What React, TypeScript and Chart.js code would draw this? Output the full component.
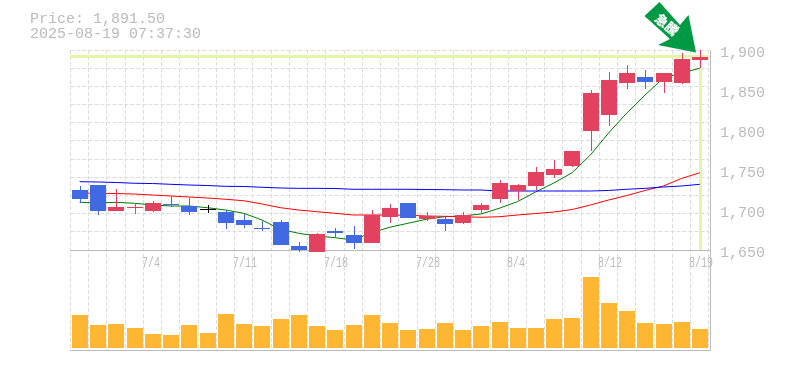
import React, { useEffect, useRef } from "react";
import { Chart, registerables } from "chart.js";

Chart.register(...registerables);

const categories = ["6/30","7/1","7/2","7/3","7/4","7/7","7/8","7/9","7/10","7/11","7/14","7/15","7/16","7/17","7/18","7/22","7/23","7/24","7/25","7/28","7/29","7/30","7/31","8/1","8/4","8/5","8/6","8/7","8/8","8/12","8/13","8/14","8/15","8/18","8/19"];
const tickLabels = ["7/4","7/11","7/18","7/28","8/4","8/12","8/19"];
const priceTicks = [1650,1700,1750,1800,1850,1900];
const opens = [1725,1731.25,1699.1,1702.5,1699.1,1707.5,1705,1700,1697.5,1687.5,1677.5,1685,1655,1647.9,1673.75,1668.75,1658.75,1691.6,1708.75,1688.75,1688.75,1683.75,1700,1713.75,1723.75,1730,1743.75,1755,1798.75,1818.75,1858.75,1866.25,1860,1858.75,1887.5];
const closes = [1713.75,1699.1,1703.75,1703.75,1708.75,1706.25,1697.9,1700,1684.1,1681.6,1676.25,1656.6,1650,1670,1671.6,1658.75,1693.75,1702.5,1690.4,1692.5,1682.9,1693.75,1706.25,1733.75,1731.25,1747.5,1751.25,1773.75,1846.25,1862.5,1871.25,1860,1871.25,1888.75,1891.5];
const highs = [1730,1731.25,1725.9,1708.75,1711.25,1717.5,1715,1706.6,1700,1695,1686.25,1687.5,1660,1671.6,1677.5,1680,1700,1707.5,1708.75,1697.5,1691.25,1697.5,1708.75,1737.5,1732.5,1753.75,1762.5,1773.75,1850,1872.5,1881.25,1875,1871.25,1896.25,1900];
const lows = [1708.4,1694.1,1699.1,1695,1697.9,1704.1,1694.1,1696.6,1676.6,1677.9,1673.75,1656.6,1648,1647.9,1666.6,1651.25,1658.75,1683.75,1690.4,1686.6,1674.1,1682.9,1696.25,1708.75,1712.5,1725,1740,1753.75,1773.75,1805,1851.25,1851.25,1846.25,1857.5,1877.5];
const maBlue = [1735.4,1735,1734.4,1733.4,1733.1,1732.1,1731.25,1730.6,1729.6,1729.4,1728.4,1727.5,1727.1,1727.1,1726.9,1725.9,1725.9,1725.9,1725.9,1725.6,1725.4,1725,1725,1723.75,1723.75,1723.75,1723.75,1723.75,1723.75,1724.4,1725.9,1727.1,1728.75,1730,1732.1];
const maRed = [1721.25,1720.9,1720.6,1720,1718.75,1717.5,1716.25,1715,1713.4,1711.6,1707.5,1702.9,1700,1697.9,1695.9,1693.75,1693.75,1693.75,1693.4,1692.5,1692.1,1691.6,1690.9,1691.6,1693.75,1695.6,1697.5,1700.6,1706.25,1712.5,1718.1,1724.4,1730,1739.4,1746.6];
const maGreen = [1709.6,1708.75,1709.6,1708.4,1706.25,1705,1705,1702.9,1700,1695.9,1687.5,1675.9,1670.9,1667.5,1665.4,1662.5,1671.6,1678.4,1683.4,1688.4,1691.6,1692.5,1695,1702.1,1710.4,1722.5,1733.75,1746.6,1768.75,1796.25,1821.25,1843.75,1865,1871.25,1877.1];
const volumes = [33,23,24,20,14,13,23,15,34,24,22,29,33,22,18,23,33,25,18,19,25,18,22,26,20,20,29,30,71,45,37,25,24,26,19];
const lastPrice = 1891.5;
const headerLines = ["Price: 1,891.50", "2025-08-19 07:37:30"];
const badgeText = "急騰";

const RED = "#e2425f";
const BLUE = "#4169e1";
const GRID = "#dddddd";
const AXIS = "#bbbbbb";
const LIME = "#e5f5a8";
const TEXT = "#bbbbbb";
const MONO = '"Liberation Mono", monospace';

const candleColors = opens.map((o, i) => (closes[i] > o ? RED : closes[i] < o ? BLUE : "#000000"));
const gridValues = Array.from({ length: 12 }, (_, i) => 1650 + (i * 250) / 11);

const snapBars = {
  id: "snapBars",
  afterDatasetsUpdate(chart: any) {
    chart.getSortedVisibleDatasetMetas().forEach((meta: any) => {
      if (meta.type !== "bar") return;
      const wick = meta.controller.getDataset().isWick;
      meta.data.forEach((el: any) => {
        el.x = Math.round(el.x + 0.38) + (wick ? 0.5 : 0);
        el.y = Math.round(el.y);
        el.base = Math.round(el.base);
        if (el.y === el.base) el.base = el.y + 1;
      });
    });
  },
};

const overlays = {
  id: "overlays",
  beforeDatasetsDraw(chart: any) {
    const { ctx, scales } = chart;
    const y = Math.round(scales.y.getPixelForValue(lastPrice) - 0.5) + 0.5;
    const x = Math.round(scales.x.getPixelForValue(categories.length - 1) + 0.38) + 0.5;
    ctx.save();
    ctx.strokeStyle = LIME;
    ctx.lineWidth = 3;
    ctx.beginPath();
    ctx.moveTo(70, y);
    ctx.lineTo(710, y);
    ctx.moveTo(x, y);
    ctx.lineTo(x, scales.y.bottom);
    ctx.stroke();
    ctx.strokeStyle = AXIS;
    ctx.lineWidth = 1;
    ctx.beginPath();
    ctx.moveTo(70, 250.5);
    ctx.lineTo(711, 250.5);
    ctx.moveTo(70, 350.5);
    ctx.lineTo(711, 350.5);
    ctx.moveTo(710.5, 50);
    ctx.lineTo(710.5, 350.5);
    ctx.stroke();
    // date labels: same 15px mono face as the price axis, condensed to 6px per character
    ctx.fillStyle = TEXT;
    ctx.font = `15px ${MONO}`;
    ctx.textAlign = "left";
    ctx.textBaseline = "alphabetic";
    tickLabels.forEach((label) => {
      const px = Math.round(scales.x.getPixelForValue(categories.indexOf(label)) + 0.38) - 11;
      ctx.save();
      ctx.translate(px, 267);
      ctx.scale(2 / 3, 1);
      ctx.fillText(label, 0, 0);
      ctx.restore();
    });
    ctx.restore();
  },
  afterDatasetsDraw(chart: any) {
    const { ctx } = chart;
    ctx.save();
    ctx.fillStyle = TEXT;
    ctx.font = `15px ${MONO}`;
    ctx.textBaseline = "alphabetic";
    ctx.textAlign = "left";
    ctx.fillText(headerLines[0], 30, 23);
    ctx.fillText(headerLines[1], 30, 38);
    ctx.fillStyle = "#009944";
    ctx.beginPath();
    ctx.moveTo(659.5, 2);
    ctx.lineTo(644.5, 16);
    ctx.lineTo(670, 39);
    ctx.lineTo(658, 45);
    ctx.lineTo(696, 52.5);
    ctx.lineTo(688.5, 15);
    ctx.lineTo(680, 25);
    ctx.closePath();
    ctx.fill();
    ctx.fillStyle = "#ffffff";
    ctx.font = '900 13px "Noto Sans CJK JP"';
    ctx.textAlign = "center";
    ctx.textBaseline = "middle";
    ctx.translate(667, 24.5);
    ctx.rotate((40 * Math.PI) / 180);
    ctx.fillText(badgeText, 0, 0);
    ctx.restore();
  },
};

export default function App() {
  const ref = useRef<HTMLCanvasElement>(null);
  useEffect(() => {
    if (!ref.current) return;
    const fixWidth = (s: any) => {
      s.width = 76.1;
      s.paddingTop = 0;
      s.paddingBottom = 0;
    };
    const chart = new Chart(ref.current, {
      type: "bar",
      data: {
        labels: categories,
        datasets: [
          { type: "bar", label: "Body", data: opens.map((o, i) => [o, closes[i]]), backgroundColor: candleColors, barThickness: 16, grouped: false, inflateAmount: 0, minBarLength: 1, yAxisID: "y", order: 1, clip: { left: 0, right: 0, top: 0, bottom: 2 } },
          { type: "bar", label: "Wick", isWick: true, data: lows.map((l, i) => [l, highs[i]]), backgroundColor: candleColors, barThickness: 1, grouped: false, inflateAmount: 0, yAxisID: "y", order: 2, clip: { left: 0, right: 0, top: 0, bottom: 2 } },
          { type: "line", label: "MA long", data: maBlue, borderColor: "#0000ff", borderWidth: 1, pointRadius: 0, tension: 0, yAxisID: "y", order: 3 },
          { type: "line", label: "MA mid", data: maRed, borderColor: "#ff0000", borderWidth: 1, pointRadius: 0, tension: 0, yAxisID: "y", order: 4 },
          { type: "line", label: "MA short", data: maGreen, borderColor: "#007a00", borderWidth: 1, pointRadius: 0, tension: 0, yAxisID: "y", order: 5 },
          { type: "bar", label: "Volume", data: volumes, backgroundColor: "#ffb733", barThickness: 16, grouped: false, inflateAmount: 0, yAxisID: "v", order: 6 },
        ] as any,
      },
      options: {
        responsive: false,
        animation: false,
        layout: { autoPadding: false, padding: { left: 70.5, top: 50, right: 0, bottom: 20 } },
        plugins: { legend: { display: false }, tooltip: { enabled: false }, title: { display: false } },
        scales: {
          x: {
            type: "category",
            offset: true,
            afterFit(s: any) {
              s.height = 0;
              s.paddingLeft = 0;
              s.paddingRight = 0;
            },
            grid: { display: true, offset: true, color: GRID, lineWidth: 1, drawTicks: false },
            border: { display: false, dash: [4, 2] },
            ticks: { autoSkip: false, maxRotation: 0, minRotation: 0, display: false },
          },
          y: {
            type: "linear",
            position: "right",
            stack: "panels",
            stackWeight: 2,
            min: 1650,
            max: 1900,
            afterFit: fixWidth,
            afterBuildTicks(s: any) {
              const values = [...new Set([...gridValues, ...priceTicks])].sort((a, b) => a - b);
              s.ticks = values.map((value) => ({ value }));
            },
            grid: {
              drawTicks: false,
              lineWidth: 1,
              color(c: any) {
                return gridValues.some((g) => Math.abs(g - c.tick?.value) < 0.001) ? GRID : "rgba(0,0,0,0)";
              },
            },
            border: { display: false, dash: [4, 2] },
            ticks: {
              autoSkip: false,
              padding: 11,
              labelOffset: 3,
              color: TEXT,
              font: { family: MONO, size: 15 },
              callback(v: any) {
                return priceTicks.includes(v) ? Number(v).toLocaleString("en-US") : "";
              },
            },
          },
          v: {
            type: "linear",
            position: "right",
            stack: "panels",
            stackWeight: 1,
            min: -2,
            max: 98,
            afterFit: fixWidth,
            grid: { display: false },
            border: { display: false },
            ticks: { display: false },
          },
        },
      } as any,
      plugins: [snapBars, overlays],
    });
    return () => chart.destroy();
  }, []);
  return (
    <div style={{ position: "absolute", left: 0, top: 0, width: 785, height: 370 }}>
      <canvas ref={ref} width={785} height={370} style={{ display: "block" }} />
    </div>
  );
}
